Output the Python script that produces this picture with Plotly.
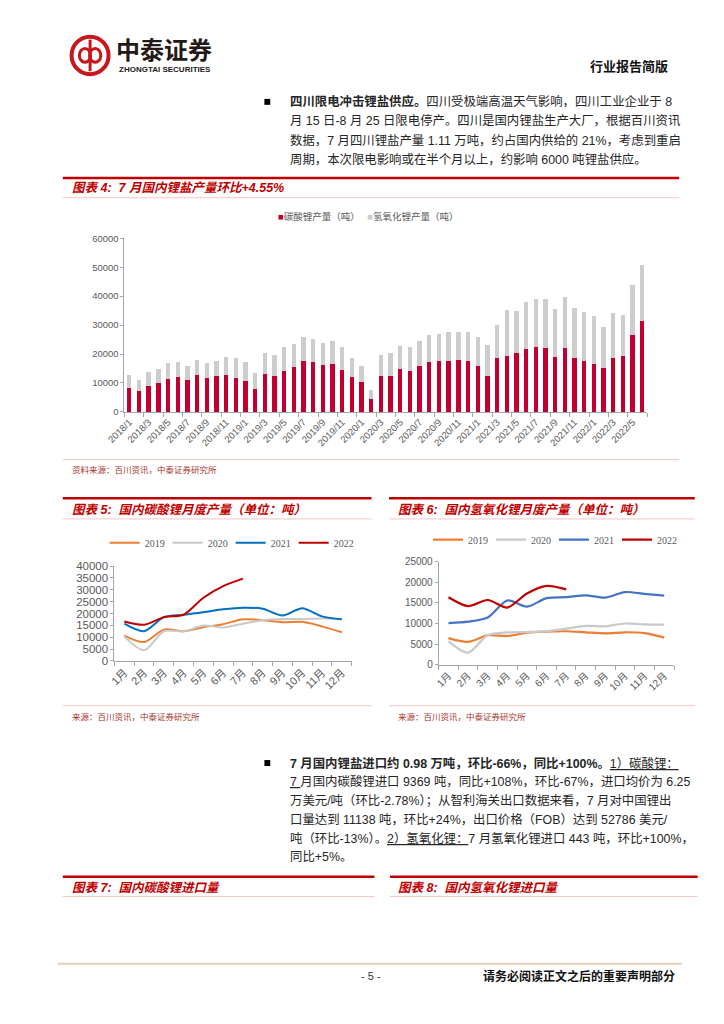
import plotly.graph_objects as go

W, H = 724, 1024


def X(px):
    return px / W


def Y(py):
    return 1 - py / H


# ---------------- data ----------------
months4 = [f"{y}/{m}" for y in range(2018, 2023) for m in range(1, 13)][:54]
carbonate4 = [8090, 7060, 9110, 9900, 11500, 12070, 10930, 12760, 11730, 12300, 12760, 11730,
              10710, 7970, 13210, 12530, 14240, 15490, 17540, 17200, 16290, 16510, 14580, 12070,
              10250, 4560, 12530, 12410, 14920, 14120, 15720, 17200, 17650, 17650, 17880, 17650,
              15720, 12530, 18450, 19480, 20500, 21750, 22440, 21980, 19130, 22210, 18790, 17540,
              16630, 15260, 18450, 19480, 26650, 31550]
hydroxide4 = [4780, 3990, 4670, 4900, 5360, 5010, 5010, 5010, 5240, 5130, 6260, 7060,
              6490, 5580, 7180, 7060, 8080, 8090, 8200, 7970, 7630, 7980, 7740, 6610,
              5690, 2960, 7170, 7860, 7970, 8200, 8770, 9450, 9340, 10030, 9800, 9910,
              10130, 10480, 11500, 15600, 14240, 16180, 16400, 16860, 16290, 17650, 17200, 16860,
              16400, 14240, 15720, 13890, 17310, 19130]
series4_names = ["碳酸锂产量（吨）", "氢氧化锂产量（吨）"]

month_labels = ["1月", "2月", "3月", "4月", "5月", "6月", "7月", "8月", "9月", "10月", "11月", "12月"]
years = ["2019", "2020", "2021", "2022"]

carb_2019 = [10710, 7970, 13210, 12530, 14240, 15490, 17540, 17200, 16290, 16510, 14580, 12070]
carb_2020 = [10250, 4560, 12530, 12410, 14920, 14120, 15720, 17200, 17650, 17650, 17880, 17650]
carb_2021 = [15720, 12530, 18450, 19480, 20500, 21750, 22440, 21980, 19130, 22210, 18790, 17540]
carb_2022 = [16630, 15260, 18450, 19480, 26650, 31550, 34700]

hydr_2019 = [6490, 5580, 7180, 7000, 7800, 8050, 8150, 7900, 7650, 7900, 7700, 6610]
hydr_2020 = [5690, 2960, 7170, 7860, 7970, 8200, 8770, 9450, 9340, 10030, 9800, 9750]
hydr_2021 = [10130, 10480, 11500, 15600, 14100, 16180, 16400, 16860, 16290, 17650, 17200, 16800]
hydr_2022 = [16400, 14240, 15720, 13890, 17310, 19130, 18300]

ticks4 = [0, 10000, 20000, 30000, 40000, 50000, 60000]
ticks5 = [0, 5000, 10000, 15000, 20000, 25000, 30000, 35000, 40000]
ticks6 = [0, 5000, 10000, 15000, 20000, 25000]

# ---------------- styles ----------------
RED = "#C00000"
BAR_RED = "#C00030"
BAR_GRAY = "#CDCDCD"
AXIS = "#A6A6A6"
TICK_TXT = "#595959"
C19, C20 = "#ED7D31", "#C9C9C9"
C21a, C21b = "#0070C0", "#4472C4"
C22 = "#C00000"
SANS = "Liberation Sans, Noto Sans CJK SC"
CJK = "Liberation Sans, Noto Sans CJK SC"
SERIF = "Liberation Serif, Noto Serif CJK SC"

fig = go.Figure()

# chart 4 bars
fig.add_trace(go.Bar(x=list(range(len(months4))), y=carbonate4, name=series4_names[0],
                     marker=dict(color=BAR_RED, line=dict(width=0)), width=0.45,
                     xaxis="x", yaxis="y", showlegend=False))
fig.add_trace(go.Bar(x=list(range(len(months4))), y=hydroxide4, name=series4_names[1],
                     marker=dict(color=BAR_GRAY, line=dict(width=0)), width=0.45,
                     xaxis="x", yaxis="y", showlegend=False))

# chart 5 lines
for name, vals, col in zip(years, [carb_2019, carb_2020, carb_2021, carb_2022], [C19, C20, C21a, C22]):
    fig.add_trace(go.Scatter(x=list(range(len(vals))), y=vals, name=name, mode="lines",
                             line=dict(color=col, width=2, shape="spline", smoothing=0.8),
                             xaxis="x2", yaxis="y2", legend="legend2"))
# chart 6 lines
for name, vals, col in zip(years, [hydr_2019, hydr_2020, hydr_2021, hydr_2022], [C19, C20, C21b, C22]):
    fig.add_trace(go.Scatter(x=list(range(len(vals))), y=vals, name=name, mode="lines",
                             line=dict(color=col, width=2.2, shape="spline", smoothing=0.8),
                             xaxis="x3", yaxis="y3", legend="legend3"))


def xaxis_common(n, step, size):
    return dict(range=[-0.5, n - 0.5], tickmode="array", tickangle=-45,
                ticks="", showline=True, linecolor=AXIS, linewidth=1, showgrid=False, zeroline=False,
                tickfont=dict(size=size, color=TICK_TXT, family=SANS),
                minor=dict(ticks="outside", tick0=-0.5, dtick=step, ticklen=4, tickcolor=AXIS, tickwidth=1, showgrid=False),
                fixedrange=True)


def yaxis_common(vals, size):
    return dict(range=[vals[0], vals[-1]], tickmode="array", tickvals=vals, ticktext=[str(v) for v in vals],
                ticks="outside", ticklen=3, tickcolor=AXIS, showline=True, linecolor=AXIS, linewidth=1,
                showgrid=False, zeroline=False,
                tickfont=dict(size=size, color=TICK_TXT, family=SANS), fixedrange=True)


xa = xaxis_common(len(months4), 2, 9.5)
xa.update(domain=[X(108.3), X(645)], anchor="y", tickvals=list(range(0, len(months4), 2)),
          ticktext=months4[::2])
ya = yaxis_common(ticks4, 9.5)
ya.update(domain=[Y(410.7), Y(235)], anchor="x")

xa2 = xaxis_common(12, 1, 11)
xa2.update(domain=[X(98), X(341.7)], anchor="y2", tickvals=list(range(12)), ticktext=month_labels)
ya2 = yaxis_common(ticks5, 11.5)
ya2.update(domain=[Y(662.7), Y(566.7)], anchor="x2")

xa3 = xaxis_common(12, 1, 10)
xa3.update(domain=[X(431), X(672.7)], anchor="y3", tickvals=list(range(12)), ticktext=month_labels)
ya3 = yaxis_common(ticks6, 10)
ya3.update(domain=[Y(666.7), Y(562.3)], anchor="x3")

fig.update_layout(
    width=W, height=H, margin=dict(l=0, r=0, t=0, b=0),
    paper_bgcolor="white", plot_bgcolor="white",
    font=dict(family=CJK, color="#262626"),
    barmode="stack", bargap=0.55,
    xaxis=xa, yaxis=ya, xaxis2=xa2, yaxis2=ya2, xaxis3=xa3, yaxis3=ya3,
    legend2=dict(orientation="h", x=X(88), y=Y(543), xanchor="left", yanchor="middle",
                 font=dict(size=10, color=TICK_TXT, family=SERIF), bgcolor="rgba(0,0,0,0)",
                 itemwidth=30, traceorder="normal", entrywidth=18),
    legend3=dict(orientation="h", x=X(420), y=Y(540), xanchor="left", yanchor="middle",
                 font=dict(size=10, color=TICK_TXT, family=SERIF), bgcolor="rgba(0,0,0,0)",
                 itemwidth=30, traceorder="normal", entrywidth=18),
    showlegend=True,
)

shapes = []


def hline(x0, x1, y, color, width):
    shapes.append(dict(type="line", xref="paper", yref="paper", x0=X(x0), x1=X(x1), y0=Y(y), y1=Y(y),
                       line=dict(color=color, width=width)))


PINK = "#F4C7C3"
# chart 4 header / footer
hline(45, 678, 174, RED, 2.5)
hline(45, 678, 194, PINK, 1)
hline(45, 678, 459, PINK, 1)
# chart 5 / 6
hline(45, 362, 498, RED, 2.5)
hline(45, 362, 519, PINK, 1)
hline(45, 362, 708, PINK, 1)
hline(380, 694, 498, RED, 2.5)
hline(380, 694, 519, PINK, 1)
hline(380, 694, 708, PINK, 1)
# chart 7 / 8
hline(45, 365, 881, RED, 2.5)
hline(45, 365, 901, PINK, 1)
hline(381, 697, 881, RED, 2.5)
hline(381, 697, 901, PINK, 1)
# page footer
hline(40, 681, 969, "#E9CDB8", 2)

# bullets
for cy in (97, 766):
    shapes.append(dict(type="rect", xref="paper", yref="paper", x0=X(252), x1=X(258), y0=Y(cy + 3), y1=Y(cy - 3),
                       fillcolor="black", line=dict(width=0)))

# logo
LOGO = "#C8161D"
shapes.append(dict(type="circle", xref="paper", yref="paper", x0=X(54), x1=X(92), y0=Y(69), y1=Y(31),
                   line=dict(color=LOGO, width=4), fillcolor="white"))
shapes.append(dict(type="circle", xref="paper", yref="paper", x0=X(62), x1=X(73.5), y0=Y(57), y1=Y(43),
                   line=dict(color=LOGO, width=3)))
shapes.append(dict(type="circle", xref="paper", yref="paper", x0=X(72.5), x1=X(84), y0=Y(57), y1=Y(43),
                   line=dict(color=LOGO, width=3)))
shapes.append(dict(type="line", xref="paper", yref="paper", x0=X(73), x1=X(73), y0=Y(66), y1=Y(34),
                   line=dict(color=LOGO, width=3)))

annotations = []


def text(x, y, s, size=12.4, color="#262626", anchor="left", family=CJK):
    annotations.append(dict(xref="paper", yref="paper", x=X(x), y=Y(y), text=s, showarrow=False,
                            xanchor=anchor, yanchor="middle", align=anchor,
                            font=dict(size=size, color=color, family=family)))


text(98, 43, "<b>中泰证券</b>", 24, "#231815", family="Noto Sans CJK SC")
text(101, 64, "<b>ZHONGTAI SECURITIES</b>", 8, "#231815", family="Liberation Sans")
text(669, 61, "<b>行业报告简版</b>", 13, "#111111", anchor="right")

# bar-chart legend (colour keys)
text(264, 213,
     f"<span style='color:{BAR_RED}'>■</span>{series4_names[0]}\u3000 "
     f"<span style='color:{BAR_GRAY}'>■</span>{series4_names[1]}",
     9.5, TICK_TXT)

para1 = [
    "<b>四川限电冲击锂盐供应。</b>四川受极端高温天气影响，四川工业企业于 8",
    "月 15 日-8 月 25 日限电停产。四川是国内锂盐生产大厂，根据百川资讯",
    "数据，7 月四川锂盐产量 1.11 万吨，约占国内供给的 21%，考虑到重启",
    "周期，本次限电影响或在半个月以上，约影响 6000 吨锂盐供应。",
]
for i, s in enumerate(para1):
    text(276, 97 + 19.3 * i, s, 12.4)

para2 = [
    "<b>7 月国内锂盐进口约 0.98 万吨，环比-66%，同比+100%。</b><u>1）碳酸锂：</u>",
    "<u>7 </u>月国内碳酸锂进口 9369 吨，同比+108%，环比-67%，进口均价为 6.25",
    "万美元/吨（环比-2.78%）；从智利海关出口数据来看，7 月对中国锂出",
    "口量达到 11138 吨，环比+24%，出口价格（FOB）达到 52786 美元/",
    "吨（环比-13%）。<u>2）氢氧化锂：</u>7 月氢氧化锂进口 443 吨，环比+100%，",
    "同比+5%。",
]
for i, s in enumerate(para2):
    text(276, 766 + 19.1 * i, s, 12.4)

text(52, 184, "<b><i>图表 4:  7 月国内锂盐产量环比+4.55%</i></b>", 12.5, RED)
text(52, 510, "<b><i>图表 5:  国内碳酸锂月度产量（单位：吨）</i></b>", 12.5, RED)
text(387, 510, "<b><i>图表 6:  国内氢氧化锂月度产量（单位：吨）</i></b>", 12.5, RED)
text(52, 892, "<b><i>图表 7:  国内碳酸锂进口量</i></b>", 12.5, RED)
text(387, 892, "<b><i>图表 8:  国内氢氧化锂进口量</i></b>", 12.5, RED)

SRC = "#A8352E"
text(52, 470, "资料来源：百川资讯，中泰证券研究所", 8.5, SRC)
text(52, 719, "来源：百川资讯，中泰证券研究所", 8.5, SRC)
text(387, 719, "来源：百川资讯，中泰证券研究所", 8.5, SRC)

text(361, 982, "- 5 -", 11, "#333333", anchor="center", family="Liberation Sans")
text(676, 982, "<b>请务必阅读正文之后的重要声明部分</b>", 12, "#111111", anchor="right")

fig.update_layout(shapes=shapes, annotations=annotations)

fig.write_html("out.html", config={"displayModeBar": False, "staticPlot": True},
               post_script="document.body.style.margin='0';document.body.style.overflow='hidden';")
